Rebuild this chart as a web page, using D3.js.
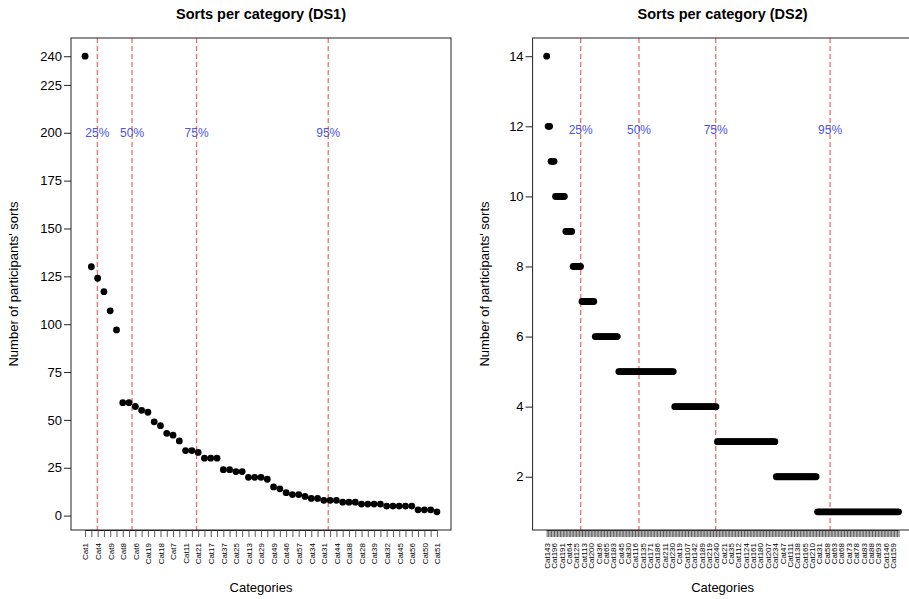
<!DOCTYPE html>
<html>
<head>
<meta charset="utf-8">
<script src="https://cdn.jsdelivr.net/npm/d3@7/dist/d3.min.js"></script>
<style>
  body { margin: 0; background: #fff; }
  text { font-family: "Liberation Sans", Arial, Helvetica, sans-serif; }
</style>
</head>
<body>
<div id="container"></div>
<script>
// ---- DS1 ----
const ds1Values = [240,130,124,117,107,97,59,59,57,55,54,49,47,43,42,39,34,34,33,30,
  30,30,24,24,23,23,20,20,20,19,15,14,12,11,11,10,9,9,8,8,
  8,7,7,7,6,6,6,6,5,5,5,5,5,3,3,3,2];
// only every 2nd category name fits on the axis
const ds1Labels = ["Cat1","Cat4","Cat9","Cat8","Cat6","Cat19","Cat18","Cat7","Cat11","Cat21",
  "Cat17","Cat37","Cat25","Cat13","Cat29","Cat49","Cat46","Cat57","Cat34","Cat31",
  "Cat44","Cat38","Cat28","Cat39","Cat32","Cat45","Cat56","Cat50","Cat51"];
const ds1YTicks = [0,25,50,75,100,125,150,175,200,225,240];
const ds1Cuts = [2.96, 8.48, 18.75, 39.7];

// ---- DS2 ----
const ds2Values = [
  14,
  12,12,
  11,11,11,
  10,10,10,10,10,10,10,
  9,9,9,9,9,
  8,8,8,8,8,8,
  7,7,7,7,7,7,7,7,7,
  6,6,6,6,6,6,6,6,6,6,6,6,6,6,6,6,
  5,5,5,5,5,5,5,5,5,5,5,5,5,5,5,5,5,5,5,5,5,5,5,5,5,5,5,5,5,5,5,5,5,5,5,5,5,5,
  4,4,4,4,4,4,4,4,4,4,4,4,4,4,4,4,4,4,4,4,4,4,4,4,4,4,4,4,4,
  3,3,3,3,3,3,3,3,3,3,3,3,3,3,3,3,3,3,3,3,3,3,3,3,3,3,3,3,3,3,3,3,3,3,3,3,3,3,3,3,
  2,2,2,2,2,2,2,2,2,2,2,2,2,2,2,2,2,2,2,2,2,2,2,2,2,2,2,2,
  1,1,1,1,1,1,1,1,1,1,1,1,1,1,1,1,1,1,1,1,1,1,1,1,1,1,1,1,
  1,1,1,1,1,1,1,1,1,1,1,1,1,1,1,1,1,1,1,1,1,1,1,1,1,1,1,1];
// only every 5th category name fits on the axis
const ds2Labels = ["Cat143","Cat196","Cat191","Cat64","Cat125","Cat113","Cat200","Cat36","Cat65","Cat183",
  "Cat45","Cat30","Cat116","Cat135","Cat171","Cat186","Cat211","Cat230","Cat19","Cat107",
  "Cat142","Cat189","Cat219","Cat240","Cat21","Cat35","Cat112","Cat124","Cat161","Cat180",
  "Cat207","Cat234","Cat47","Cat111","Cat138","Cat165","Cat210","Cat31","Cat58","Cat63",
  "Cat68","Cat73","Cat78","Cat83","Cat88","Cat93","Cat146","Cat159"];
const ds2YTicks = [2,4,6,8,10,12,14];
const ds2Cuts = [24.1, 63.7, 115.8, 193.5];

const cutLabels = ["25%","50%","75%","95%"];

const w = 909;
const h = 599;
const plotTop = 38, plotBottom = 530;

const svg = d3.select("#container")
  .append("svg")
  .attr("width", w)
  .attr("height", h);

function panel(values, labels, every, yTicks, cuts, cutY, title, left, right, ylabOff) {
  const n = values.length;
  const xPad = 0.04 * (n - 1);
  const xScale = d3.scaleLinear()
    .domain([1 - xPad, n + xPad])
    .range([left, right]);
  const yMin = d3.min(values), yMax = d3.max(values);
  const yPad = 0.04 * (yMax - yMin);
  const yScale = d3.scaleLinear()
    .domain([yMin - yPad, yMax + yPad])
    .range([plotBottom, plotTop]);

  const g = svg.append("g");

  // percentile lines
  g.selectAll("line.cut")
    .data(cuts)
    .enter()
    .append("line")
    .attr("class", "cut")
    .attr("x1", d => xScale(d))
    .attr("x2", d => xScale(d))
    .attr("y1", plotTop)
    .attr("y2", plotBottom)
    .attr("stroke", "#f07070")
    .attr("stroke-width", 1.3)
    .attr("stroke-dasharray", "5,3");

  g.selectAll("text.cut")
    .data(cuts)
    .enter()
    .append("text")
    .attr("class", "cut")
    .attr("x", d => xScale(d))
    .attr("y", yScale(cutY))
    .attr("dy", "0.35em")
    .attr("text-anchor", "middle")
    .attr("font-size", 12)
    .attr("fill", "#4a55e6")
    .text((d, i) => cutLabels[i]);

  // points
  g.selectAll("circle")
    .data(values)
    .enter()
    .append("circle")
    .attr("cx", (d, i) => xScale(i + 1))
    .attr("cy", d => yScale(d))
    .attr("r", 3.4)
    .attr("fill", "#000");

  // box
  g.append("rect")
    .attr("x", left)
    .attr("y", plotTop)
    .attr("width", right - left)
    .attr("height", plotBottom - plotTop)
    .attr("fill", "none")
    .attr("stroke", "#222")
    .attr("stroke-width", 1);

  // y axis
  const yAxis = d3.axisLeft(yScale).tickValues(yTicks).tickSize(7).tickSizeOuter(0);
  const ya = g.append("g")
    .attr("transform", "translate(" + left + ",0)")
    .call(yAxis);
  ya.select(".domain").remove();
  ya.selectAll("text").attr("font-size", 13).attr("fill", "#000")
    .attr("font-family", "'Liberation Sans', Arial, sans-serif").attr("x", -9);
  ya.selectAll("line").attr("stroke", "#222");

  // x axis: tick at every category, a name at every few
  const xAxis = d3.axisBottom(xScale)
    .tickValues(d3.range(1, n + 1))
    .tickSize(7)
    .tickSizeOuter(0)
    .tickFormat(d => (d - 1) % every === 0 ? labels[(d - 1) / every] : "");
  const xa = g.append("g")
    .attr("transform", "translate(0," + plotBottom + ")")
    .call(xAxis);
  xa.select(".domain")
    .attr("d", "M" + xScale(1) + ",0.5H" + xScale(n))
    .attr("stroke", "#222");
  xa.selectAll("line").attr("stroke", "#333").attr("stroke-width", 0.8);
  xa.selectAll("text")
    .attr("font-size", 8)
    .attr("fill", "#000")
    .attr("font-family", "'Liberation Sans', Arial, sans-serif")
    .attr("transform", "rotate(-90)")
    .attr("text-anchor", "end")
    .attr("x", -13)
    .attr("y", 0)
    .attr("dy", "0.35em");

  // titles
  g.append("text")
    .attr("x", (left + right) / 2)
    .attr("y", 19)
    .attr("text-anchor", "middle")
    .attr("font-size", 14.5)
    .attr("font-weight", "bold")
    .text(title);

  g.append("text")
    .attr("x", (left + right) / 2)
    .attr("y", 592)
    .attr("text-anchor", "middle")
    .attr("font-size", 13)
    .text("Categories");

  g.append("text")
    .attr("transform", "translate(" + (left - ylabOff) + "," + ((plotTop + plotBottom) / 2) + ") rotate(-90)")
    .attr("text-anchor", "middle")
    .attr("font-size", 13)
    .text("Number of participants' sorts");
}

panel(ds1Values, ds1Labels, 2, ds1YTicks, ds1Cuts, 200, "Sorts per category (DS1)", 71, 451, 53);
panel(ds2Values, ds2Labels, 5, ds2YTicks, ds2Cuts, 11.9, "Sorts per category (DS2)", 532.6, 912.6, 44);
</script>
</body>
</html>
